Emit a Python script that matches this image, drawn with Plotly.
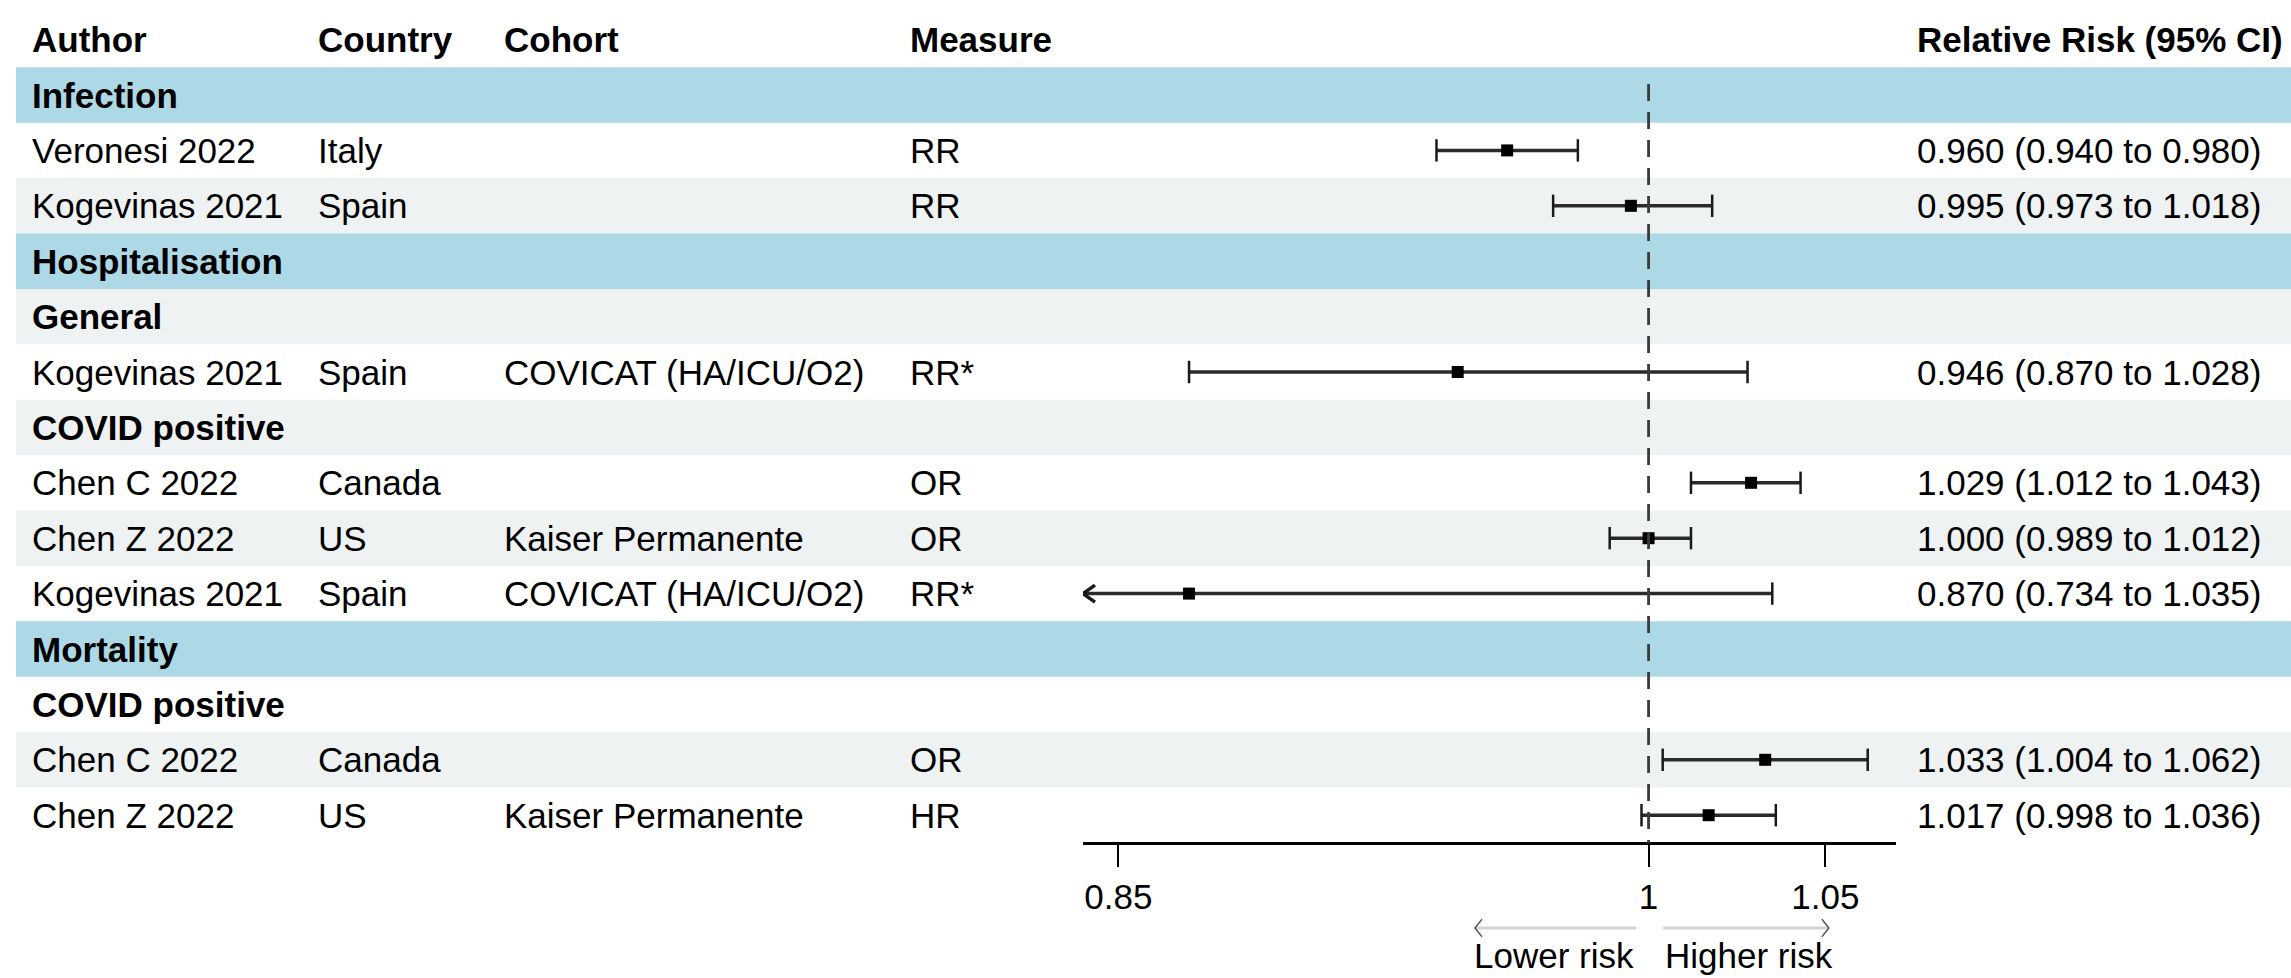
import plotly.graph_objects as go

# ---------------- data ----------------
authors = ["Infection", "Veronesi 2022", "Kogevinas 2021", "Hospitalisation", "General",
           "Kogevinas 2021", "COVID positive", "Chen C 2022", "Chen Z 2022", "Kogevinas 2021",
           "Mortality", "COVID positive", "Chen C 2022", "Chen Z 2022"]
row_kind = ["group", "data", "data", "group", "sub", "data", "sub", "data", "data", "data",
            "group", "sub", "data", "data"]
countries = ["", "Italy", "Spain", "", "", "Spain", "", "Canada", "US", "Spain", "", "", "Canada", "US"]
cohorts = ["", "", "", "", "", "COVICAT (HA/ICU/O2)", "", "", "Kaiser Permanente",
           "COVICAT (HA/ICU/O2)", "", "", "", "Kaiser Permanente"]
measures = ["", "RR", "RR", "", "", "RR*", "", "OR", "OR", "RR*", "", "", "OR", "HR"]
est = [None, 0.960, 0.995, None, None, 0.946, None, 1.029, 1.000, 0.870, None, None, 1.033, 1.017]
lo = [None, 0.940, 0.973, None, None, 0.870, None, 1.012, 0.989, 0.734, None, None, 1.004, 0.998]
hi = [None, 0.980, 1.018, None, None, 1.028, None, 1.043, 1.012, 1.035, None, None, 1.062, 1.036]

headers = ["Author", "Country", "Cohort", "Measure", "Relative Risk (95% CI)"]
tick_vals = [0.85, 1, 1.05]
tick_text = ["0.85", "1", "1.05"]
x_limits = [0.84, 1.07]
ref_value = 1

# ---------------- layout geometry ----------------
W, H = 2291, 978
FONT = "Liberation Sans, Arial, sans-serif"
FS = 35
row_pitch = 55.4
row1_center = 95
y_top = 1 - row1_center / row_pitch
y_bot = 1 + (H - row1_center) / row_pitch
x_dom = [1083 / W, 1896 / W]
px_per_unit = (1896 - 1083) / (x_limits[1] - x_limits[0])
col_x = [30, 316, 502, 908, 1915]

BLUE = "#ADD8E6"
GREY = "#EEF2F2"

fig = go.Figure()
shapes = []
annotations = []

n = len(authors)
rows = list(range(1, n + 1))

# row backgrounds
for r, kind in zip(rows, row_kind):
    if kind == "group":
        col = BLUE
    else:
        col = GREY if r % 2 == 1 else "white"
    if col == "white":
        continue
    shapes.append(dict(type="rect", xref="paper", yref="y", x0=16 / W, x1=1,
                       y0=r - 0.5, y1=r + 0.5, fillcolor=col, line=dict(width=0),
                       layer="below"))

# header
for cx, t in zip(col_x, headers):
    annotations.append(dict(xref="paper", yref="y", x=cx / W, y=0, text=f"<b>{t}</b>",
                            showarrow=False, xanchor="left", yanchor="middle",
                            font=dict(family=FONT, size=FS, color="black")))

# table text
for i, r in enumerate(rows):
    if row_kind[i] != "data":
        annotations.append(dict(xref="paper", yref="y", x=col_x[0] / W, y=r,
                                text=f"<b>{authors[i]}</b>", showarrow=False,
                                xanchor="left", yanchor="middle",
                                font=dict(family=FONT, size=FS, color="black")))
        continue
    ci_txt = f"{est[i]:.3f} ({lo[i]:.3f} to {hi[i]:.3f})"
    for cx, t in zip(col_x, [authors[i], countries[i], cohorts[i], measures[i], ci_txt]):
        if not t:
            continue
        annotations.append(dict(xref="paper", yref="y", x=cx / W, y=r, text=t,
                                showarrow=False, xanchor="left", yanchor="middle",
                                font=dict(family=FONT, size=FS, color="black")))

# reference dashed line
shapes.append(dict(type="line", xref="x", yref="y", x0=ref_value, x1=ref_value,
                   y0=0.8, y1=14.5, line=dict(color="#3a3a3a", width=2.8, dash="17px,11px")))

# CI lines, caps, arrows, points
cap_x, cap_y = [], []
chev_x, chev_y = [], []
dx_chev = 12 / px_per_unit
dy_chev = 8.5 / row_pitch
for i, r in enumerate(rows):
    if est[i] is None:
        continue
    l = max(lo[i], x_limits[0])
    h = min(hi[i], x_limits[1])
    fig.add_trace(go.Scatter(x=[l, h], y=[r, r], mode="lines",
                             line=dict(color="#2a2a2a", width=3.5),
                             hoverinfo="skip", showlegend=False))
    if lo[i] >= x_limits[0]:
        cap_x.append(lo[i]); cap_y.append(r)
    else:
        chev_x += [l + dx_chev, l, l + dx_chev, None]
        chev_y += [r - dy_chev, r, r + dy_chev, None]
    if hi[i] <= x_limits[1]:
        cap_x.append(hi[i]); cap_y.append(r)
    else:
        chev_x += [h - dx_chev, h, h - dx_chev, None]
        chev_y += [r - dy_chev, r, r + dy_chev, None]

fig.add_trace(go.Scatter(x=cap_x, y=cap_y, mode="markers",
                         marker=dict(symbol="line-ns", size=16,
                                     line=dict(color="#1a1a1a", width=2.5)),
                         hoverinfo="skip", showlegend=False))
fig.add_trace(go.Scatter(x=chev_x, y=chev_y, mode="lines",
                         line=dict(color="#1a1a1a", width=3.5),
                         hoverinfo="skip", showlegend=False))
pt_x = [e for e in est if e is not None]
pt_y = [r for r, e in zip(rows, est) if e is not None]
fig.add_trace(go.Scatter(x=pt_x, y=pt_y, mode="markers",
                         marker=dict(symbol="square", size=12, color="black",
                                     line=dict(width=0)),
                         hoverinfo="skip", showlegend=False))

# lower / higher risk arrows
arrow_r = 1 + (928 - row1_center) / row_pitch
label_r = 1 + (955 - row1_center) / row_pitch
left_arrow = [0.9964, 0.9509]
right_arrow = [1.0041, 1.051]
for a in (left_arrow, right_arrow):
    fig.add_trace(go.Scatter(x=a, y=[arrow_r, arrow_r], mode="lines",
                             line=dict(color="#D3D3D3", width=3),
                             hoverinfo="skip", showlegend=False))
    tip = a[1]
    sgn = 1 if a[1] < a[0] else -1
    d = 7 / px_per_unit
    fig.add_trace(go.Scatter(x=[tip + sgn * d, tip, tip + sgn * d],
                             y=[arrow_r - 0.16, arrow_r, arrow_r + 0.16], mode="lines",
                             line=dict(color="#555555", width=1.5),
                             hoverinfo="skip", showlegend=False))
annotations.append(dict(xref="x", yref="y", x=left_arrow[0], y=label_r, text="Lower risk",
                        showarrow=False, xanchor="right", yanchor="middle",
                        font=dict(family=FONT, size=FS, color="black")))
annotations.append(dict(xref="x", yref="y", x=right_arrow[0], y=label_r, text="Higher risk",
                        showarrow=False, xanchor="left", yanchor="middle",
                        font=dict(family=FONT, size=FS, color="black")))

fig.update_layout(
    width=W, height=H,
    margin=dict(l=0, r=0, t=0, b=0),
    paper_bgcolor="white", plot_bgcolor="rgba(0,0,0,0)",
    showlegend=False,
    shapes=shapes, annotations=annotations,
    xaxis=dict(domain=x_dom, range=x_limits, anchor="free", position=1 - 843 / H,
               showgrid=False, zeroline=False, showline=True, linecolor="black",
               linewidth=2.5, ticks="outside", ticklen=22, tickwidth=2, tickcolor="black",
               tickvals=tick_vals, ticktext=tick_text,
               tickfont=dict(family=FONT, size=FS, color="black")),
    yaxis=dict(domain=[0, 1], range=[y_bot, y_top], visible=False,
               showgrid=False, zeroline=False),
)

fig.write_html("out.html", config={"displayModeBar": False},
               post_script="document.body.style.margin='0';document.body.style.overflow='hidden';")
